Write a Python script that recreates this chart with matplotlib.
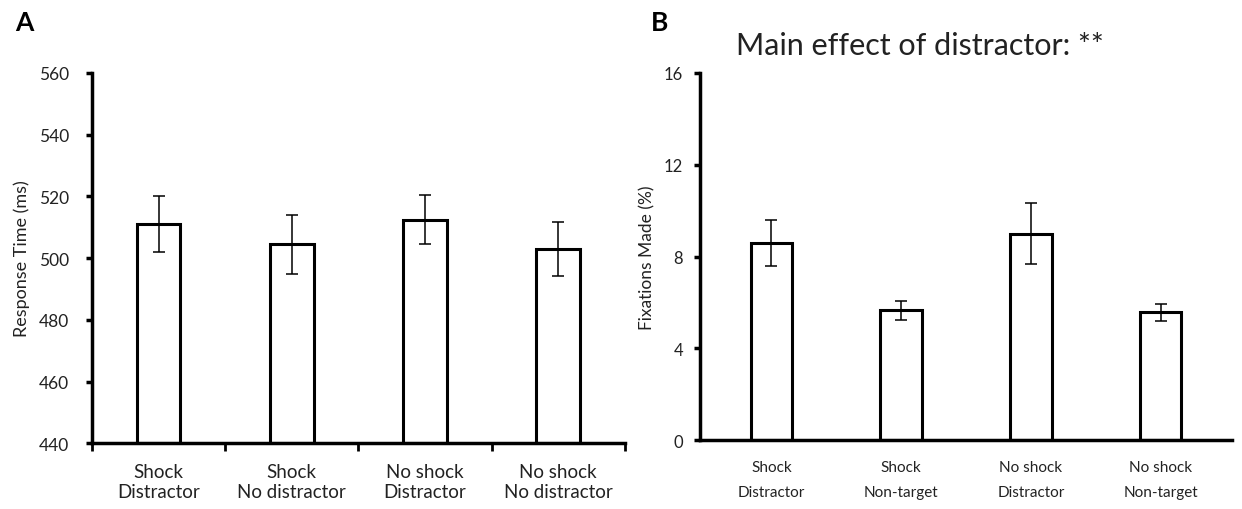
import numpy as np
import matplotlib.pyplot as plt

plt.rcParams['font.family'] = ['Lato', 'DejaVu Sans']

# Panel A data
labels_a = ['Shock\nDistractor', 'Shock\nNo distractor', 'No shock\nDistractor', 'No shock\nNo distractor']
rt_mean = [511.0, 504.5, 512.5, 503.0]
rt_err = [9.0, 9.5, 8.0, 8.7]

# Panel B data
labels_b = ['Shock\nDistractor', 'Shock\nNon-target', 'No shock\nDistractor', 'No shock\nNon-target']
fix_mean = [8.6, 5.65, 9.0, 5.57]
fix_err = [1.0, 0.42, 1.33, 0.37]

fig = plt.figure(figsize=(12.42, 5.10), dpi=100)
ax_a = fig.add_axes([0.074, 0.129, 0.429, 0.726])
ax_b = fig.add_axes([0.5636, 0.135, 0.4284, 0.72])

txt = '#222222'
x = np.arange(len(labels_a))

# Panel A
ax_a.bar(x, np.array(rt_mean) - 440, bottom=440, width=0.33, color='white',
         edgecolor='black', linewidth=2.2, zorder=2)
ax_a.errorbar(x, rt_mean, yerr=rt_err, fmt='none', ecolor='black',
              elinewidth=1.1, capsize=4, capthick=1.1, zorder=3)
ax_a.set_ylim(440, 560)
ax_a.set_xlim(-0.5, 3.5)
ax_a.set_yticks(np.arange(440, 561, 20))
ax_a.set_xticks(np.arange(-0.5, 3.6, 1.0))
ax_a.set_xticklabels([])
ax_a.set_xticks(x, minor=True)
ax_a.set_xticklabels(labels_a, minor=True, fontsize=13.5, color=txt, linespacing=1.25)
ax_a.tick_params(axis='x', which='major', direction='out', length=6, width=2)
ax_a.tick_params(axis='x', which='minor', length=0, pad=14)
ax_a.tick_params(axis='y', direction='out', length=4.5, width=2.5, labelsize=12.5, colors='black',
                 labelcolor=txt, pad=12)
ax_a.set_ylabel('Response Time (ms)', fontsize=13, color=txt, labelpad=6)
ax_a.spines['top'].set_visible(False)
ax_a.spines['right'].set_visible(False)
ax_a.spines['left'].set_linewidth(2.5)
ax_a.spines['bottom'].set_linewidth(2.5)

# Panel B
ax_b.bar(x, fix_mean, width=0.32, color='white', edgecolor='black',
         linewidth=2.2, zorder=2)
ax_b.errorbar(x, fix_mean, yerr=fix_err, fmt='none', ecolor='black',
              elinewidth=1.1, capsize=4, capthick=1.1, zorder=3)
ax_b.set_ylim(0, 16)
ax_b.set_xlim(-0.55, 3.55)
ax_b.set_yticks(np.arange(0, 17, 4))
ax_b.set_xticks(x)
ax_b.set_xticklabels(labels_b, fontsize=11, color=txt, linespacing=2.0)
ax_b.tick_params(axis='x', length=0, pad=14)
ax_b.tick_params(axis='y', direction='out', length=4, width=2.5, labelsize=12,
                 labelcolor=txt, pad=8)
ax_b.set_ylabel('Fixations Made (%)', fontsize=12.5, color=txt, labelpad=6)
ax_b.spines['top'].set_visible(False)
ax_b.spines['right'].set_visible(False)
ax_b.spines['left'].set_linewidth(2.5)
ax_b.spines['bottom'].set_linewidth(2.5)
ax_b.set_title('Main effect of distractor: **', fontsize=22, color=txt, pad=14, x=0.414)

fig.text(0.012, 0.955, 'A', fontsize=19, fontweight='bold', va='center')
fig.text(0.524, 0.955, 'B', fontsize=19, fontweight='bold', va='center')

fig.savefig('out.png', dpi=100, facecolor='white')
